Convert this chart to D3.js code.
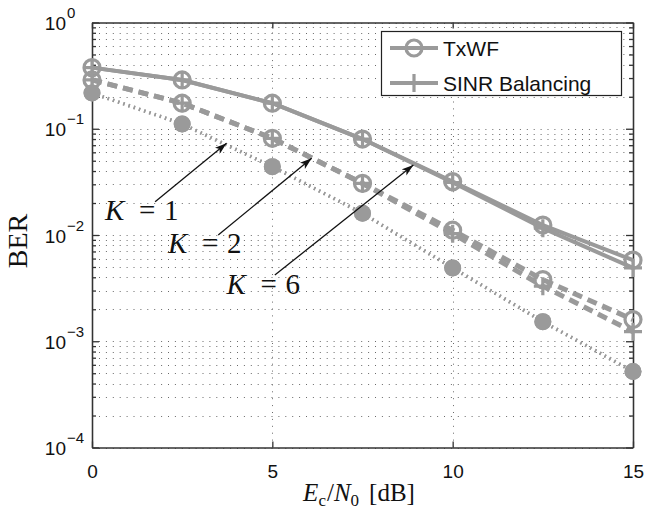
<!DOCTYPE html>
<html>
<head>
<meta charset="utf-8">
<script src="https://cdn.jsdelivr.net/npm/d3@7"></script>
<style>
  body { margin: 0; background: #fff; }
</style>
</head>
<body>
<div id="chart"></div>
<script>
// E_c/N_0 grid in dB
var ecn0 = [0, 2.5, 5, 7.5, 10, 12.5, 15];

// BER values
var txwfK1 = [0.376, 0.288, 0.174, 0.080, 0.0318, 0.0124, 0.0058];
var sinrK1 = [0.376, 0.288, 0.174, 0.080, 0.0312, 0.0116, 0.0049];
var txwfK2 = [0.288, 0.174, 0.0813, 0.0306, 0.0111, 0.0038, 0.0016];
var sinrK2 = [0.288, 0.174, 0.0813, 0.0306, 0.0103, 0.0033, 0.00123];
var txwfK6 = [0.217, 0.111, 0.044, 0.016, 0.0049, 0.00153, 0.00052];
var sinrK6 = [0.217, 0.111, 0.044, 0.016, 0.0049, 0.00153, 0.00052];

var xTicks = [0, 5, 10, 15];
var yExponents = [0, -1, -2, -3, -4];

// annotations (data coordinates)
var annoK = ['1', '2', '6'];
var annoLabelAt = [[0.36, 0.0138], [2.11, 0.0068], [3.73, 0.00279]];
var annoArrowFrom = [[1.75, 0.0206], [3.50, 0.0100], [5.07, 0.0042]];
var annoArrowTo = [[3.73, 0.073], [6.09, 0.0527], [8.91, 0.0456]];

var W = 645, H = 520;
var margin = { top: 22.5, right: 12, bottom: 72.5, left: 92 };
var grey = '#9a9a9a';
var frameColor = '#333';
var sans = '"Liberation Sans", Arial, Helvetica, sans-serif';
var serif = '"Liberation Serif", "Times New Roman", serif';

var svg = d3.select('#chart').append('svg')
    .attr('width', W)
    .attr('height', H);

var x = d3.scaleLinear().domain([0, 15]).range([margin.left, W - margin.right]);
var y = d3.scaleLog().domain([1e-4, 1]).range([H - margin.bottom, margin.top]);

var majorY = yExponents.map(function (e) { return Math.pow(10, e); });
var minorY = [];
for (var e = -4; e < 0; e++) {
    for (var m = 2; m <= 9; m++) {
        minorY.push(m * Math.pow(10, e));
    }
}

//grid
var grid = svg.append('g').attr('class', 'grid')
    .attr('stroke', '#6a6a6a')
    .attr('stroke-width', 1)
    .attr('stroke-dasharray', '1,5.9');

grid.selectAll('line.h')
    .data(majorY.concat(minorY))
    .enter().append('line')
    .attr('class', 'h')
    .attr('x1', x(0) + 7).attr('x2', x(15))
    .attr('y1', function (d) { return Math.round(y(d)) + 0.5; })
    .attr('y2', function (d) { return Math.round(y(d)) + 0.5; });

grid.selectAll('line.v')
    .data([5, 10])
    .enter().append('line')
    .attr('class', 'v')
    .attr('x1', function (d) { return Math.round(x(d)) + 0.5; })
    .attr('x2', function (d) { return Math.round(x(d)) + 0.5; })
    .attr('y1', y(1e-4)).attr('y2', y(1));

// axes, ticks pointing inwards like matlab
function styleAxis(g) {
    g.selectAll('line, path')
        .attr('stroke', frameColor)
        .attr('stroke-width', 1.3);
    g.selectAll('text').remove();
}

var gx = svg.append('g')
    .attr('transform', 'translate(0,' + y(1e-4) + ')')
    .call(d3.axisBottom(x).tickValues(xTicks).tickSizeInner(-6).tickSizeOuter(0));
styleAxis(gx);
gx.selectAll('.tick').append('text')
    .attr('y', 30)
    .attr('text-anchor', 'middle')
    .attr('fill', '#111')
    .style('font-family', sans)
    .style('font-size', '19px')
    .text(function (d) { return d; });

var gxTop = svg.append('g')
    .attr('transform', 'translate(0,' + y(1) + ')')
    .call(d3.axisTop(x).tickValues(xTicks).tickSizeInner(-6).tickSizeOuter(0));
styleAxis(gxTop);

var gy = svg.append('g')
    .attr('transform', 'translate(' + x(0) + ',0)')
    .call(d3.axisLeft(y).tickValues(majorY).tickSizeInner(-7).tickSizeOuter(0));
styleAxis(gy);
svg.append('g')
    .attr('transform', 'translate(' + x(0) + ',0)')
    .call(d3.axisLeft(y).tickValues(minorY).tickSizeInner(-4).tickSizeOuter(0))
    .call(styleAxis);

var gyR = svg.append('g')
    .attr('transform', 'translate(' + x(15) + ',0)')
    .call(d3.axisRight(y).tickValues(majorY).tickSizeInner(-7).tickSizeOuter(0));
styleAxis(gyR);
svg.append('g')
    .attr('transform', 'translate(' + x(15) + ',0)')
    .call(d3.axisRight(y).tickValues(minorY).tickSizeInner(-4).tickSizeOuter(0))
    .call(styleAxis);

// 10^k labels
var yl = gy.selectAll('.tick').append('g').attr('fill', '#111').style('font-family', sans);
yl.append('text')
    .attr('x', -26).attr('y', 7)
    .attr('text-anchor', 'end')
    .style('font-size', '19px')
    .text('10');
yl.append('text')
    .attr('x', -25).attr('y', -5)
    .attr('text-anchor', 'start')
    .style('font-size', '15px')
    .text(function (d) {
        var k = Math.round(Math.log10(d));
        return k < 0 ? '\u2212' + (-k) : String(k);
    });

// axis titles
var xt = svg.append('text')
    .attr('x', 359).attr('y', 501)
    .attr('text-anchor', 'middle')
    .attr('fill', '#111')
    .style('font-family', serif)
    .style('font-size', '25px');
xt.append('tspan').style('font-style', 'italic').text('E');
xt.append('tspan').attr('dy', 5).style('font-size', '17px').text('c');
xt.append('tspan').attr('dy', -5).attr('dx', 1).text('/');
xt.append('tspan').style('font-style', 'italic').text('N');
xt.append('tspan').attr('dy', 5).style('font-size', '17px').text('0');
xt.append('tspan').attr('dy', -5).attr('dx', 10).text('[dB]');

svg.append('text')
    .attr('transform', 'translate(26.5,241) rotate(-90)')
    .attr('text-anchor', 'middle')
    .attr('fill', '#111')
    .style('font-family', serif)
    .style('font-size', '28px')
    .text('BER');

// curves
var series = [
    { values: txwfK1, marker: 'circle', dash: null, width: 4 },
    { values: sinrK1, marker: 'plus', dash: null, width: 4 },
    { values: txwfK2, marker: 'circle', dash: '10,6', width: 5 },
    { values: sinrK2, marker: 'plus', dash: '10,6', width: 5 },
    { values: txwfK6, marker: 'dot', dash: '1.5,4', width: 3.5 },
    { values: sinrK6, marker: 'dot', dash: '1.5,4', width: 3.5 }
];

var line = d3.line()
    .x(function (d, i) { return x(ecn0[i]); })
    .y(function (d) { return y(d); });

var plot = svg.append('g').attr('class', 'plot');

plot.selectAll('path.curve')
    .data(series)
    .enter().append('path')
    .attr('class', 'curve')
    .attr('d', function (s) { return line(s.values); })
    .attr('fill', 'none')
    .attr('stroke', grey)
    .attr('stroke-width', function (s) { return s.width; })
    .attr('stroke-dasharray', function (s) { return s.dash; });

function drawMarker(g, kind, px, py) {
    if (kind === 'circle') {
        g.append('circle')
            .attr('cx', px).attr('cy', py).attr('r', 8)
            .attr('fill', 'none')
            .attr('stroke', grey)
            .attr('stroke-width', 3.2);
    } else if (kind === 'plus') {
        g.append('path')
            .attr('d', 'M' + (px - 9) + ',' + py + 'H' + (px + 9) + 'M' + px + ',' + (py - 9) + 'V' + (py + 9))
            .attr('stroke', grey)
            .attr('stroke-width', 3.2);
    } else {
        g.append('circle')
            .attr('cx', px).attr('cy', py).attr('r', 8.5)
            .attr('fill', grey);
    }
}

series.forEach(function (s) {
    var g = plot.append('g');
    s.values.forEach(function (v, i) {
        drawMarker(g, s.marker, x(ecn0[i]), y(v));
    });
});

// legend
var lg = svg.append('g').attr('class', 'legend');
lg.append('rect')
    .attr('x', 381.5).attr('y', 31.5)
    .attr('width', 240).attr('height', 64)
    .attr('fill', '#fff')
    .attr('stroke', '#222')
    .attr('stroke-width', 1.2);
[{ label: 'TxWF', marker: 'circle', cy: 48 }, { label: 'SINR Balancing', marker: 'plus', cy: 83 }]
    .forEach(function (it) {
        lg.append('line')
            .attr('x1', 390).attr('x2', 438)
            .attr('y1', it.cy).attr('y2', it.cy)
            .attr('stroke', grey).attr('stroke-width', 4);
        drawMarker(lg, it.marker, 414, it.cy);
        lg.append('text')
            .attr('x', 443).attr('y', it.cy)
            .attr('dy', '0.36em')
            .attr('fill', '#111')
            .style('font-family', sans)
            .style('font-size', '21px')
            .text(it.label);
    });

// arrows + K labels
svg.append('defs').append('marker')
    .attr('id', 'arrow')
    .attr('viewBox', '0 0 12 8')
    .attr('refX', 12).attr('refY', 4)
    .attr('markerWidth', 12).attr('markerHeight', 8)
    .attr('markerUnits', 'userSpaceOnUse')
    .attr('orient', 'auto')
    .append('path')
    .attr('d', 'M0,0L12,4L0,8L3,4Z')
    .attr('fill', '#111');

var ann = svg.append('g').attr('class', 'annotations');
annoK.forEach(function (k, i) {
    ann.append('line')
        .attr('x1', x(annoArrowFrom[i][0])).attr('y1', y(annoArrowFrom[i][1]))
        .attr('x2', x(annoArrowTo[i][0])).attr('y2', y(annoArrowTo[i][1]))
        .attr('stroke', '#111')
        .attr('stroke-width', 1.3)
        .attr('marker-end', 'url(#arrow)');
    var lx = x(annoLabelAt[i][0]), ly = y(annoLabelAt[i][1]);
    var t = ann.append('text')
        .attr('y', ly)
        .attr('fill', '#111')
        .style('font-family', serif)
        .style('font-size', '29px');
    t.append('tspan').attr('x', lx).style('font-style', 'italic').text('K');
    t.append('tspan').attr('x', lx + 34).text('=');
    t.append('tspan').attr('x', lx + 59).text(k);
});
</script>
</body>
</html>
